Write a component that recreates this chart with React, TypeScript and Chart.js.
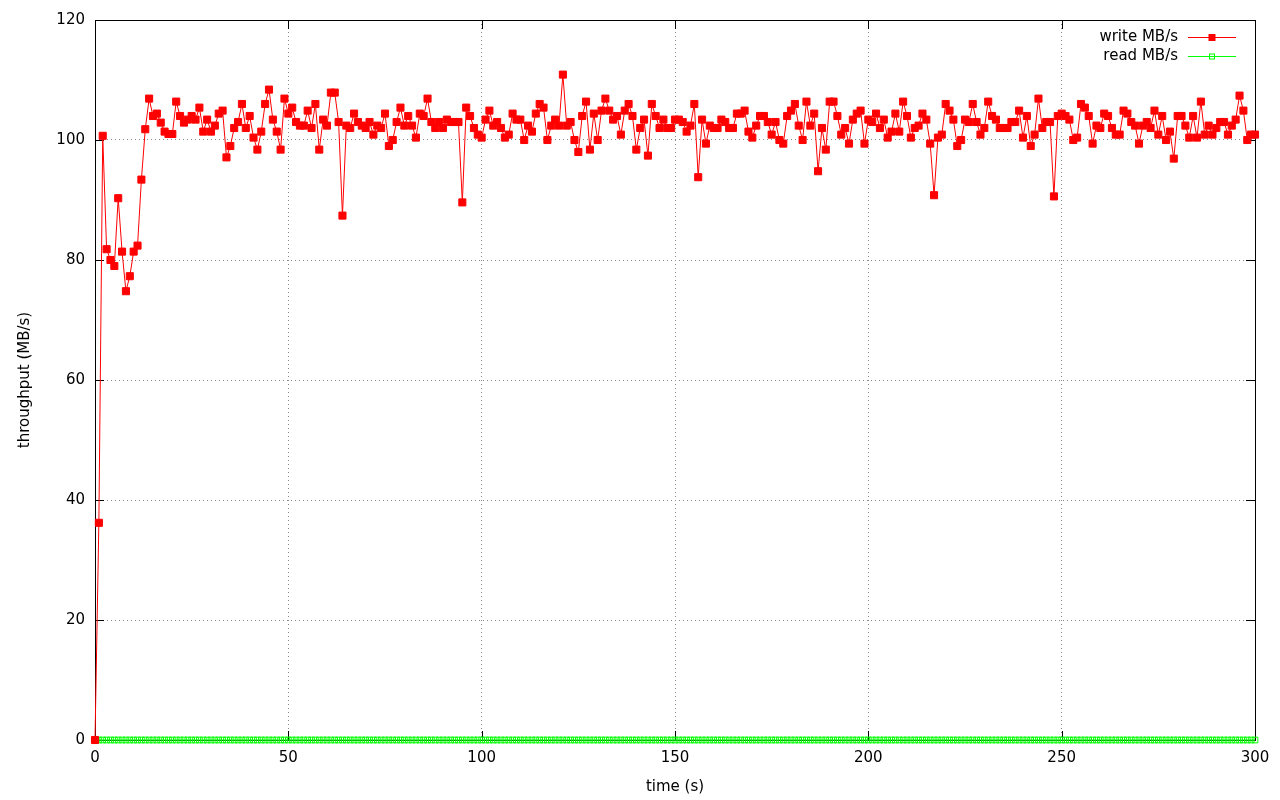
import React, { useEffect, useRef } from "react";
import { Chart, registerables } from "chart.js";

Chart.register(...registerables);

// sample times (s), one per second
const seconds: number[] = Array.from({ length: 301 }, (_, i) => i);

// write throughput MB/s
const writeMBs: number[] = [
  0, 36.2, 100.7, 81.8, 80.0, 79.0, 90.3, 81.4, 74.8, 77.3,
  81.4, 82.4, 93.4, 101.8, 106.9, 104.0, 104.4, 102.9, 101.4, 101.0,
  101.0, 106.4, 104.0, 102.9, 103.4, 104.0, 103.4, 105.4, 101.4, 103.4,
  101.4, 102.4, 104.4, 104.9, 97.1, 99.0, 102.0, 103.0, 106.0, 102.0,
  104.0, 100.4, 98.4, 101.4, 106.0, 108.4, 103.4, 101.4, 98.4, 106.9,
  104.4, 105.4, 103.0, 102.4, 102.4, 104.9, 102.0, 106.0, 98.4, 103.4,
  102.4, 107.9, 107.9, 103.0, 87.4, 102.4, 102.0, 104.4, 103.0, 102.4,
  102.0, 103.0, 100.9, 102.4, 102.0, 104.4, 99.0, 100.0, 103.0, 105.4,
  102.4, 104.0, 102.4, 100.4, 104.4, 104.0, 106.9, 103.0, 102.0, 103.0,
  102.0, 103.4, 103.0, 103.0, 103.0, 89.6, 105.4, 104.0, 102.0, 100.9,
  100.4, 103.4, 104.9, 102.4, 103.0, 102.0, 100.4, 100.9, 104.4, 103.4,
  103.4, 100.0, 102.4, 101.4, 104.4, 106.0, 105.4, 100.0, 102.4, 103.4,
  102.4, 110.9, 102.4, 103.0, 100.0, 98.0, 104.0, 106.4, 98.4, 104.4,
  100.0, 104.9, 106.9, 104.9, 103.4, 104.0, 100.9, 104.9, 106.0, 104.0,
  98.4, 102.0, 103.4, 97.4, 106.0, 104.0, 102.0, 103.4, 102.0, 102.0,
  103.4, 103.4, 103.0, 101.4, 102.4, 106.0, 93.8, 103.4, 99.4, 102.4,
  102.0, 102.0, 103.4, 103.0, 102.0, 102.0, 104.4, 104.4, 104.9, 101.4,
  100.4, 102.4, 104.0, 104.0, 103.0, 100.9, 103.0, 100.0, 99.4, 104.0,
  104.9, 106.0, 102.4, 100.0, 106.4, 102.4, 104.4, 94.8, 102.0, 98.4,
  106.4, 106.4, 104.0, 100.9, 102.0, 99.4, 103.4, 104.4, 104.9, 99.4,
  103.4, 103.0, 104.4, 102.0, 103.4, 100.4, 101.4, 104.4, 101.4, 106.4,
  104.0, 100.4, 102.0, 102.4, 104.4, 103.4, 99.4, 90.8, 100.4, 100.9,
  106.0, 104.9, 103.4, 99.0, 100.0, 103.4, 103.0, 106.0, 103.0, 100.9,
  102.0, 106.4, 104.0, 103.4, 102.0, 102.0, 102.0, 103.0, 103.0, 104.9,
  100.4, 104.0, 99.0, 100.9, 106.9, 102.0, 103.0, 103.0, 90.6, 104.0,
  104.4, 104.0, 103.4, 100.0, 100.4, 106.0, 105.4, 104.0, 99.4, 102.4,
  102.0, 104.4, 104.0, 102.0, 100.9, 100.9, 104.9, 104.4, 103.0, 102.4,
  99.4, 102.4, 103.0, 102.0, 104.9, 100.9, 104.0, 100.0, 101.4, 96.9,
  104.0, 104.0, 102.4, 100.4, 104.0, 100.4, 106.4, 100.9, 102.4, 100.9,
  102.0, 103.0, 103.0, 100.9, 102.4, 103.4, 107.4, 104.9, 100.0, 100.9,
  100.9,
];

// read throughput MB/s (zero throughout)
const readMBs: number[] = [
  0, 0, 0, 0, 0, 0, 0, 0, 0, 0, 0, 0, 0, 0, 0, 0, 0, 0, 0, 0,
  0, 0, 0, 0, 0, 0, 0, 0, 0, 0, 0, 0, 0, 0, 0, 0, 0, 0, 0, 0,
  0, 0, 0, 0, 0, 0, 0, 0, 0, 0, 0, 0, 0, 0, 0, 0, 0, 0, 0, 0,
  0, 0, 0, 0, 0, 0, 0, 0, 0, 0, 0, 0, 0, 0, 0, 0, 0, 0, 0, 0,
  0, 0, 0, 0, 0, 0, 0, 0, 0, 0, 0, 0, 0, 0, 0, 0, 0, 0, 0, 0,
  0, 0, 0, 0, 0, 0, 0, 0, 0, 0, 0, 0, 0, 0, 0, 0, 0, 0, 0, 0,
  0, 0, 0, 0, 0, 0, 0, 0, 0, 0, 0, 0, 0, 0, 0, 0, 0, 0, 0, 0,
  0, 0, 0, 0, 0, 0, 0, 0, 0, 0, 0, 0, 0, 0, 0, 0, 0, 0, 0, 0,
  0, 0, 0, 0, 0, 0, 0, 0, 0, 0, 0, 0, 0, 0, 0, 0, 0, 0, 0, 0,
  0, 0, 0, 0, 0, 0, 0, 0, 0, 0, 0, 0, 0, 0, 0, 0, 0, 0, 0, 0,
  0, 0, 0, 0, 0, 0, 0, 0, 0, 0, 0, 0, 0, 0, 0, 0, 0, 0, 0, 0,
  0, 0, 0, 0, 0, 0, 0, 0, 0, 0, 0, 0, 0, 0, 0, 0, 0, 0, 0, 0,
  0, 0, 0, 0, 0, 0, 0, 0, 0, 0, 0, 0, 0, 0, 0, 0, 0, 0, 0, 0,
  0, 0, 0, 0, 0, 0, 0, 0, 0, 0, 0, 0, 0, 0, 0, 0, 0, 0, 0, 0,
  0, 0, 0, 0, 0, 0, 0, 0, 0, 0, 0, 0, 0, 0, 0, 0, 0, 0, 0, 0,
  0,
];

const seriesLabels = ["write MB/s", "read MB/s"];
const xTitle = "time (s)";
const yTitle = "throughput (MB/s)";
const xTickStep = 50;
const yTickStep = 20;
const xRange = [0, 300];
const yRange = [0, 120];

const FONT = "'DejaVu Sans', sans-serif";
const FONT_SIZE = 15;

const framePlugin = {
  id: "gnuplotFrame",
  beforeDatasetsDraw(chart: any) {
    const { ctx, chartArea: a, scales } = chart;
    ctx.save();
    ctx.strokeStyle = "#000";
    ctx.lineWidth = 1;
    ctx.strokeRect(Math.round(a.left) + 0.5, Math.round(a.top) + 0.5, Math.round(a.right - a.left), Math.round(a.bottom - a.top));
    const tl = 9;
    ctx.beginPath();
    for (let v = yRange[0]; v <= yRange[1]; v += yTickStep) {
      const y = Math.round(scales.y.getPixelForValue(v)) + 0.5;
      ctx.moveTo(a.left, y); ctx.lineTo(a.left + tl, y);
      ctx.moveTo(a.right, y); ctx.lineTo(a.right - tl, y);
    }
    for (let v = xRange[0]; v <= xRange[1]; v += xTickStep) {
      const x = Math.round(scales.x.getPixelForValue(v)) + 0.5;
      ctx.moveTo(x, a.bottom); ctx.lineTo(x, a.bottom - tl);
      ctx.moveTo(x, a.top); ctx.lineTo(x, a.top + tl);
    }
    ctx.stroke();
    ctx.restore();
  },
  afterDraw(chart: any) {
    const { ctx } = chart;
    ctx.save();
    ctx.font = `${FONT_SIZE}px ${FONT}`;
    ctx.textAlign = "right";
    ctx.textBaseline = "middle";
    chart.data.datasets.forEach((ds: any, i: number) => {
      const y = 37 + i * 19 + 0.5;
      ctx.fillStyle = "#000";
      ctx.fillText(ds.label, 1178, y);
      ctx.strokeStyle = ds.borderColor;
      ctx.lineWidth = 1;
      ctx.beginPath();
      ctx.moveTo(1188, y); ctx.lineTo(1236, y);
      ctx.stroke();
      const s = i === 0 ? 7 : 5;
      if (i === 0) {
        ctx.fillStyle = ds.backgroundColor;
        ctx.fillRect(1212 - s / 2, y - s / 2, s, s);
      } else {
        ctx.strokeRect(1212 - s / 2, y - s / 2, s, s);
      }
    });
    ctx.restore();
  },
};

export default function App() {
  const ref = useRef<HTMLCanvasElement | null>(null);
  useEffect(() => {
    if (!ref.current) return;
    Chart.defaults.font.family = FONT;
    Chart.defaults.font.size = FONT_SIZE;
    Chart.defaults.color = "#000";
    const chart = new Chart(ref.current, {
      type: "line",
      data: {
        datasets: [
          {
            label: seriesLabels[0],
            data: seconds.map((t, i) => ({ x: t, y: writeMBs[i] })),
            borderColor: "#ff0000",
            backgroundColor: "#ff0000",
            borderWidth: 1,
            pointStyle: "rect",
            pointRadius: 5,
            pointBorderWidth: 1,
            clip: false as any,
          },
          {
            label: seriesLabels[1],
            data: seconds.map((t, i) => ({ x: t, y: readMBs[i] })),
            borderColor: "#00ff00",
            backgroundColor: "rgba(0,0,0,0)",
            borderWidth: 1,
            pointStyle: "rect",
            pointRadius: 4,
            pointBorderWidth: 1,
            clip: false as any,
          },
        ],
      },
      options: {
        animation: false,
        responsive: false,
        maintainAspectRatio: false,
        layout: { padding: { top: 20, right: 25, left: 0, bottom: 0 } },
        plugins: { legend: { display: false }, tooltip: { enabled: false } },
        scales: {
          x: {
            type: "linear",
            min: xRange[0],
            max: xRange[1],
            afterFit: (s: any) => { s.height = 60; },
            ticks: { stepSize: xTickStep, padding: 9, maxRotation: 0 },
            grid: { color: "#8a8a8a", borderDash: [1, 3], drawTicks: false } as any,
            border: { display: false, dash: [1, 3] },
            title: { display: true, text: xTitle, padding: { top: 0, bottom: 4 } },
          },
          y: {
            type: "linear",
            min: yRange[0],
            max: yRange[1],
            afterFit: (s: any) => { s.width = 95; },
            ticks: { stepSize: yTickStep, padding: 10 },
            grid: { color: "#8a8a8a", drawTicks: false } as any,
            border: { display: false, dash: [1, 3] },
            title: { display: true, text: yTitle, padding: { top: 16, bottom: 0 } },
          },
        },
      },
      plugins: [framePlugin],
    });
    return () => chart.destroy();
  }, []);
  return (
    <div style={{ position: "fixed", left: 0, top: 0, width: 1280, height: 800, background: "#fff" }}>
      <canvas ref={ref} width={1280} height={800} style={{ width: 1280, height: 800 }} />
    </div>
  );
}
